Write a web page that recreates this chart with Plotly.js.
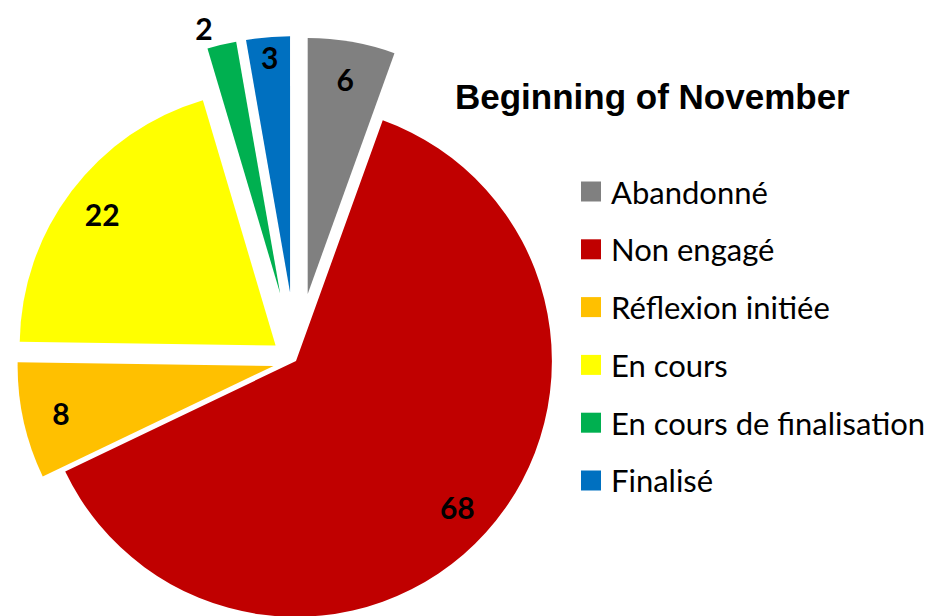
<!DOCTYPE html>
<html>
<head>
<meta charset="utf-8">
<script src="https://cdn.plot.ly/plotly-3.0.1.min.js"></script>
<style>
  html, body { margin: 0; padding: 0; overflow: hidden; background: #fff; }
  #chart { position: absolute; left: -60px; top: 0px; }
</style>
</head>
<body>
<div id="chart"></div>
<script>
// ---- data ----
const categories = ["Abandonné", "Non engagé", "Réflexion initiée", "En cours", "En cours de finalisation", "Finalisé"];
const counts = [6, 68, 8, 22, 2, 3];
const sliceColors = ["#808080", "#C00000", "#FFC000", "#FFFF00", "#00B050", "#0070C0"];
const explode = [0.266, 0, 0.09, 0.10, 0.27, 0.27];
const labelPositions = ["inside", "inside", "inside", "inside", "outside", "inside"];
const chartTitle = "Beginning of November";

// ---- geometry of the page ----
const W = 1001, H = 700;
const M = { l: 31, r: 0, t: 36, b: 14 };
const divLeft = -60;
const plotW = W - M.l - M.r, plotH = H - M.t - M.b;
const plotLeft = divLeft + M.l, plotBottom = M.t + plotH;
const px = x => (x - plotLeft) / plotW;
const py = y => (plotBottom - y) / plotH;
const pieSize = 650;
const dom = { x: [0, pieSize / plotW], y: [0, 1] };

const pie = {
  type: "pie",
  labels: categories,
  values: counts,
  sort: false,
  direction: "clockwise",
  rotation: 0,
  pull: explode,
  marker: { colors: sliceColors, line: { width: 0 } },
  textinfo: "none",
  showlegend: false,
  domain: dom,
  hoverinfo: "label+value"
};

const labelsTrace = {
  type: "pie",
  labels: categories,
  values: counts,
  sort: false,
  direction: "clockwise",
  rotation: 0,
  pull: explode,
  hole: 0.7,
  marker: { colors: categories.map(() => "rgba(0,0,0,0)"), line: { width: 0 } },
  texttemplate: "%{value}",
  textposition: labelPositions,
  insidetextorientation: "horizontal",
  textfont: { family: "Lato, 'Liberation Sans', sans-serif", size: 30, color: "#000", weight: "bold" },
  showlegend: false,
  domain: dom,
  hoverinfo: "skip"
};

// legend built from categories/colors
const rowTop = 191.5, rowGap = 57.8, sq = 20, sqLeft = 581, txtLeft = 609;
const shapes = categories.map((c, i) => ({
  type: "rect", xref: "paper", yref: "paper",
  x0: px(sqLeft), x1: px(sqLeft + sq),
  y0: py(rowTop + rowGap * i - sq / 2), y1: py(rowTop + rowGap * i + sq / 2),
  fillcolor: sliceColors[i], line: { width: 0 }
}));
const annotations = categories.map((c, i) => ({
  xref: "paper", yref: "paper",
  x: px(txtLeft), y: py(rowTop + rowGap * i),
  xanchor: "left", yanchor: "middle",
  text: c, showarrow: false,
  font: { family: "Lato, sans-serif", size: 31, color: "#000" }
}));
annotations.push({
  xref: "paper", yref: "paper",
  x: px(652), y: py(97),
  xanchor: "center", yanchor: "middle",
  text: "<b>" + chartTitle + "</b>", showarrow: false,
  font: { family: "'Liberation Sans', Arial, sans-serif", size: 35, color: "#000" }
});

const layout = {
  width: W, height: H,
  margin: M,
  paper_bgcolor: "#fff",
  plot_bgcolor: "#fff",
  showlegend: false,
  shapes: shapes,
  annotations: annotations
};

Plotly.newPlot("chart", [pie, labelsTrace], layout, { staticPlot: true, displayModeBar: false });
</script>
</body>
</html>
